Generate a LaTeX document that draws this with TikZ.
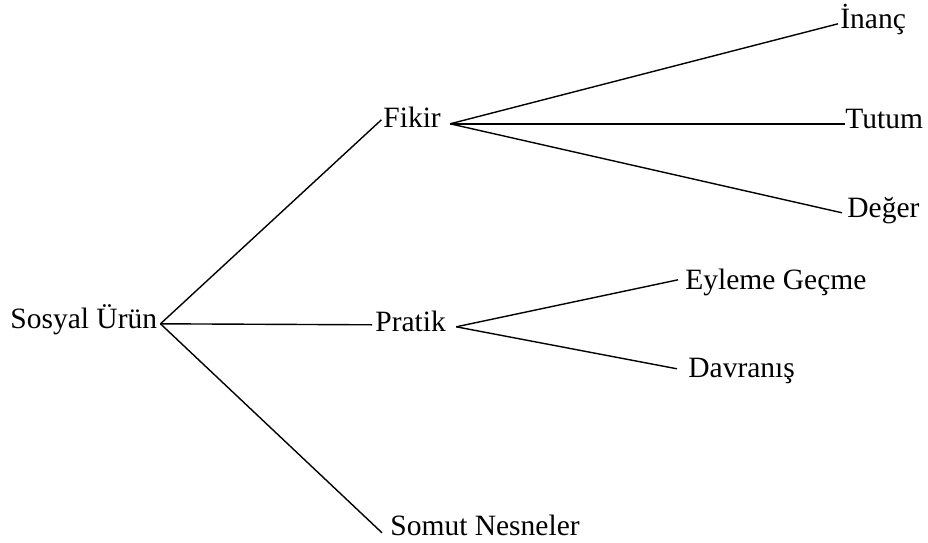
\documentclass[tikz,border=0pt]{standalone}
\usepackage{fontspec}
\setmainfont{Liberation Serif}
\begin{document}
\begin{tikzpicture}[x=0.5pt,y=-0.5pt,
  lbl/.style={inner sep=0pt, text height=0.42em, text depth=0pt, anchor=base west,
    font=\fontsize{14.75}{17}\selectfont},
  link/.style={line width=0.7pt, black}]
\useasboundingbox (0,0) rectangle (928,542);

% labels
\node[lbl] (root)   at (10,328)  {Sosyal Ürün};
\node[lbl] (fikir)  at (383,127) {Fikir};
\node[lbl] (pratik) at (375,331) {Pratik};
\node[lbl] (somut)  at (390,535) {Somut Nesneler};
\node[lbl] (inanc)  at (840,28)  {İnanç};
\node[lbl] (tutum)  at (845,128) {Tutum};
\node[lbl] (deger)  at (847,217) {Değer};
\node[lbl] (eylem)  at (685,289) {Eyleme Geçme};
\node[lbl] (davr)   at (688,377) {Davranış};

% branching points
\coordinate (rootJ)   at ([xshift=1.5pt]root.east);
\coordinate (fikirJ)  at ([xshift=4.5pt,yshift=-0.5pt]fikir.east);
\coordinate (pratikJ) at ([xshift=5pt]pratik.east);

% first level
\draw[link] (rootJ) -- ([xshift=-0.8pt,yshift=1.5pt]fikir.west);
\draw[link] (rootJ) -- ([xshift=-1.5pt,yshift=1pt]pratik.west);
\draw[link] (rootJ) -- ([xshift=-4pt,yshift=-1pt]somut.west);

% second level
\draw[link] (fikirJ) -- ([xshift=-1pt]inanc.west);
\draw[link] (fikirJ) -- (tutum.west);
\draw[link] (fikirJ) -- ([xshift=-2.5pt]deger.west);
\draw[link] (pratikJ) -- ([xshift=-3.5pt,yshift=2.5pt]eylem.west);
\draw[link] (pratikJ) -- ([xshift=-5.5pt,yshift=2pt]davr.west);
\end{tikzpicture}
\end{document}
